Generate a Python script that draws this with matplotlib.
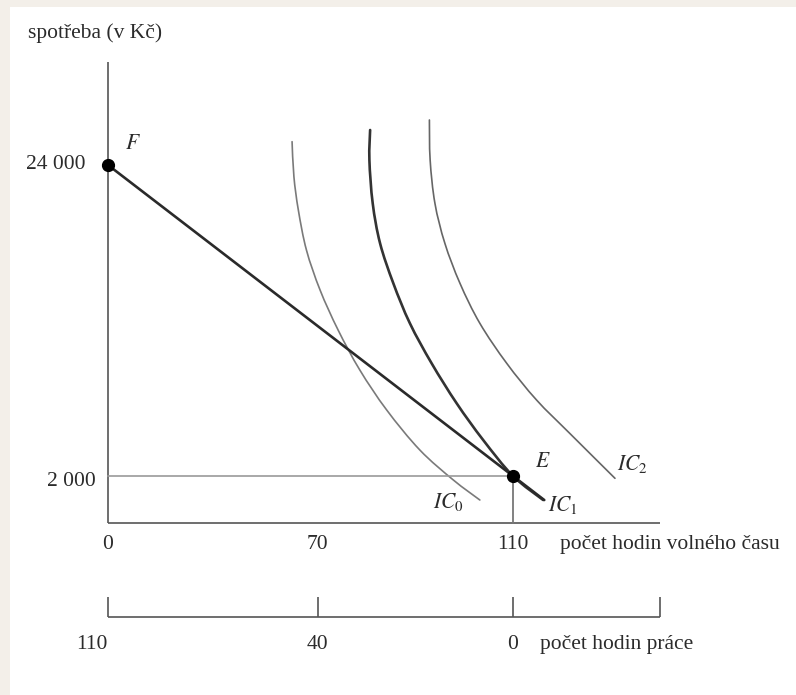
import matplotlib
matplotlib.use("Agg")
import matplotlib.pyplot as plt
from matplotlib.patches import Rectangle, PathPatch
from matplotlib.path import Path

plt.rcParams['font.family'] = ['Liberation Serif', 'DejaVu Serif']
plt.rcParams['mathtext.fontset'] = 'stix'

# ---- data (schematic diagram values) ----
# budget line: F (0 h, 24 000 Kč) -> E (110 h, 2 000 Kč), extended slightly past E
budget_x = [0, 110, 118.5]
budget_y = [24000, 2000, 300]

# indifference curves
ic0_x = [50.0, 50.5, 51.7, 53.9, 57.6, 62.5, 68.4, 75.7, 84.7, 93.8, 101.0]
ic0_y = [25649, 23173, 20817, 17987, 15158, 12328, 9498, 6669, 3839, 1717, 302]

ic1_x = [71.2, 71.0, 71.9, 73.9, 77.5, 82.0, 87.9, 94.7, 101.9, 110.0, 118.2]
ic1_y = [26476, 24354, 21291, 18461, 15632, 12802, 9972, 7143, 4547, 2000, 302]

ic2_x = [87.3, 87.5, 88.8, 91.5, 95.6, 101.0, 108.3, 116.4, 125.4, 137.7]
ic2_y = [27183, 24354, 21291, 18461, 15632, 12802, 9972, 7376, 5021, 1837]

point_F = (0, 24000)
point_E = (110, 2000)

leisure_tick_pos = [0, 57, 110]
leisure_tick_labels = ['0', '70', '110']
work_tick_pos = [0, 57, 110, 150]
work_tick_labels = ['110', '40', '0']
y_tick_vals = [24000, 2000]
y_tick_labels = ['24 000', '2 000']


def smooth_path(xs, ys):
    """Catmull-Rom curve through the points, drawn as cubic Bezier segments."""
    pts = list(zip(xs, ys))
    n = len(pts)
    verts = [pts[0]]
    codes = [Path.MOVETO]
    for i in range(n - 1):
        p0 = pts[i - 1] if i > 0 else pts[i]
        p1 = pts[i]
        p2 = pts[i + 1]
        p3 = pts[i + 2] if i + 2 < n else pts[i + 1]
        c1 = (p1[0] + (p2[0] - p0[0]) / 6, p1[1] + (p2[1] - p0[1]) / 6)
        c2 = (p2[0] - (p3[0] - p1[0]) / 6, p2[1] - (p3[1] - p1[1]) / 6)
        verts += [c1, c2, p2]
        codes += [Path.CURVE4] * 3
    return Path(verts, codes)


# ---- figure ----
fig = plt.figure(figsize=(7.96, 6.95), dpi=100, facecolor='white')
bg = '#f3efe9'
fig.patches.append(Rectangle((0, 0), 10 / 796, 1, transform=fig.transFigure,
                             facecolor=bg, edgecolor='none', zorder=0))
fig.patches.append(Rectangle((0, 1 - 7 / 695), 1, 7 / 695, transform=fig.transFigure,
                             facecolor=bg, edgecolor='none', zorder=0))

ax = fig.add_axes([0, 0, 1, 1])
ax.set_facecolor('none')
ax.set_xlim(-29.33, 186.87)
ax.set_ylim(-13492, 35672)
ax.axis('off')

txt = '#2b2b2b'
axis_col = '#555555'
fs = 15.5

x_axis_y = -1325
y_axis_top = 31286
x_axis_right = 149.9

# main axes
ax.plot([0, 0], [x_axis_y, y_axis_top], color=axis_col, lw=1.2, solid_capstyle='butt')
ax.plot([0, x_axis_right], [x_axis_y, x_axis_y], color=axis_col, lw=1.2, solid_capstyle='butt')

# reference lines at E
ax.plot([0, point_E[0]], [point_E[1], point_E[1]], color='#9a9a9a', lw=1.2)
ax.plot([point_E[0], point_E[0]], [x_axis_y, point_E[1]], color='#777777', lw=1.3)

# indifference curves
for xs, ys, col, lw in [(ic0_x, ic0_y, '#7a7a7a', 1.2),
                        (ic2_x, ic2_y, '#666666', 1.2),
                        (ic1_x, ic1_y, '#333333', 1.9)]:
    ax.add_patch(PathPatch(smooth_path(xs, ys), facecolor='none', edgecolor=col,
                           lw=lw, capstyle='round'))

# budget line
ax.plot(budget_x, budget_y, color='#2a2a2a', lw=1.9, solid_capstyle='round')

# points
ax.plot(*point_F, 'o', color='black', ms=8.5, zorder=5)
ax.plot(*point_E, 'o', color='black', ms=8.5, zorder=5)

# axis labels
ax.text(-21.7, 33338, 'spotřeba (v Kč)', fontsize=fs, color=txt, ha='left', va='center')
ax.text(-6.2, y_tick_vals[0], y_tick_labels[0], fontsize=fs, color=txt, ha='right', va='center')
ax.text(-3.3, y_tick_vals[1] - 420, y_tick_labels[1], fontsize=fs, color=txt, ha='right', va='center')

for xp, lab in zip(leisure_tick_pos, leisure_tick_labels):
    ax.text(xp, -2881, lab, fontsize=fs, color=txt, ha='center', va='center')
ax.text(122.8, -2881, 'počet hodin volného času', fontsize=fs, color=txt, ha='left', va='center')

# work-hours axis
work_y = -7974
tick_top = -6560
ax.plot([work_tick_pos[0], work_tick_pos[-1]], [work_y, work_y], color=axis_col, lw=1.2,
        solid_capstyle='butt')
for xp in work_tick_pos:
    ax.plot([xp, xp], [work_y, tick_top], color=axis_col, lw=1.2, solid_capstyle='butt')
work_label_x = [-4.3, 57, 110]
for xp, lab in zip(work_label_x, work_tick_labels):
    ax.text(xp, -9955, lab, fontsize=fs, color=txt, ha='center', va='center')
ax.text(117.3, -9955, 'počet hodin práce', fontsize=fs, color=txt, ha='left', va='center')

# point / curve labels
ax.text(6.8, 25415, r'$F$', fontsize=fs, color=txt, ha='center', va='center')
ax.text(118.1, 2990, r'$E$', fontsize=fs, color=txt, ha='center', va='center')
ax.text(88.3, 161, r'$IC_0$', fontsize=fs, color=txt, ha='left', va='center')
ax.text(119.5, -51, r'$IC_1$', fontsize=fs, color=txt, ha='left', va='center')
ax.text(138.2, 2849, r'$IC_2$', fontsize=fs, color=txt, ha='left', va='center')

fig.savefig('out.png', dpi=100, facecolor=fig.get_facecolor())
